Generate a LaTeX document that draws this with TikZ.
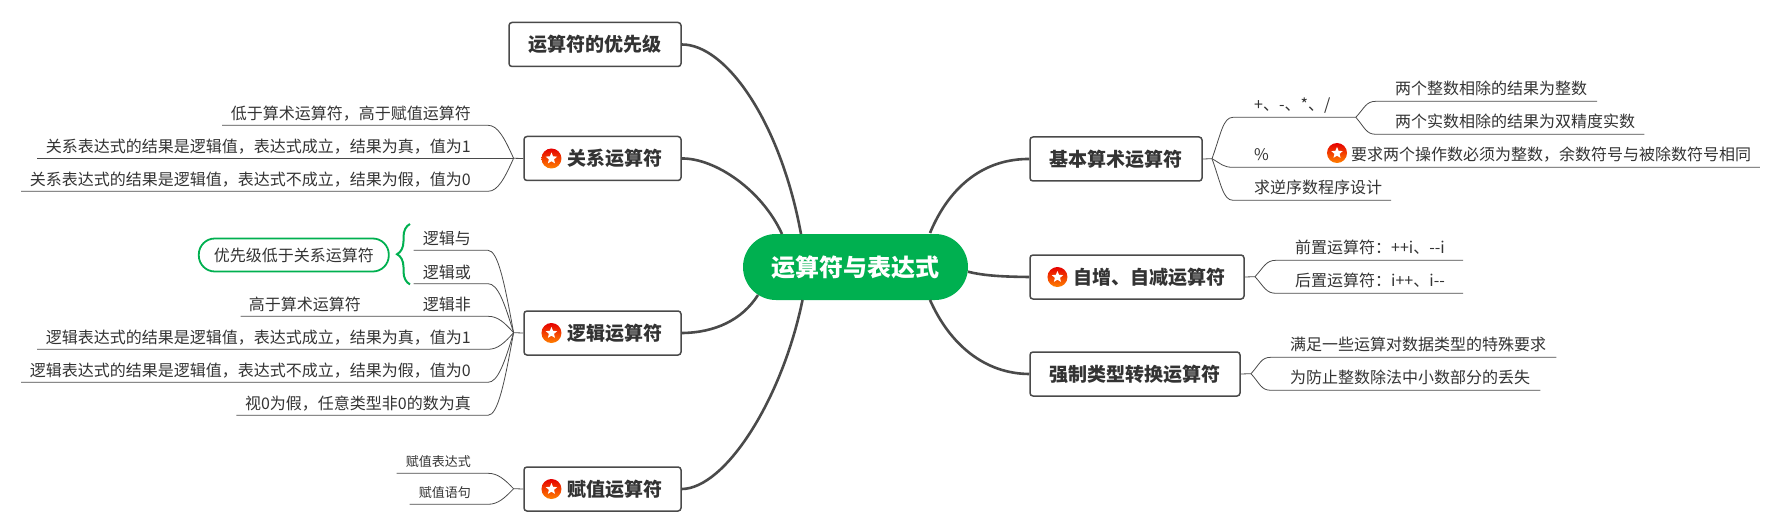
\documentclass[tikz,border=0pt]{standalone}
\usepackage{fontspec}
\setmainfont{Noto Sans CJK SC}
\usetikzlibrary{positioning}
\usetikzlibrary{shapes.geometric}
\usetikzlibrary{decorations.pathreplacing}
\definecolor{rootgreen}{HTML}{00B050}
\definecolor{inkgrey}{HTML}{333333}
\definecolor{linegrey}{HTML}{4A4A4A}
\tikzset{
  root/.style={fill=rootgreen, text=white, rounded corners=33pt, minimum width=225pt,
    minimum height=66pt, font=\fontsize{24}{28}\selectfont\bfseries},
  topic/.style={draw=linegrey, fill=white, line width=1.5pt, rounded corners=3pt, text=inkgrey,
    minimum width=#1, minimum height=44pt, inner sep=0pt, font=\fontsize{19}{22}\selectfont\bfseries},
  trunk/.style={draw=linegrey, line width=2.6pt},
  twig/.style={draw=linegrey, line width=0.8pt},
  leafl/.style={anchor=south east, align=right, text width=#1, inner xsep=0pt, inner ysep=5.5pt,
    text depth=0pt, text=inkgrey, font=\fontsize{16}{19}\selectfont,
    execute at end node={\hspace*{17pt}}},
  leafr/.style={anchor=south west, align=left, text width=#1, inner xsep=0pt, inner ysep=7pt,
    text depth=0pt, text=inkgrey, font=\fontsize{16}{19}\selectfont,
    execute at begin node={\hspace*{19pt}}},
  prio/.style={circle, top color=red!90!black, bottom color=orange, minimum size=20pt, inner sep=0pt,
    label={[star, star points=5, star point ratio=2.2, fill=white, minimum size=12pt, inner sep=0pt]center:}},
  pill/.style={draw=rootgreen, line width=1.8pt, rounded corners=16pt, minimum width=190pt,
    minimum height=33pt, text=inkgrey, font=\fontsize{16}{19}\selectfont},
}
\begin{document}
\begin{tikzpicture}[x=1pt, y=-1pt]

  \useasboundingbox (0,0) rectangle (1781,532);

  % Define nodes
  \node[root] (root) at (855.5,267) {运算符与表达式};

  \node[topic=172pt] (prec) at (595,44.5) {运算符的优先级};
  \node[topic=157pt] (rel) at (602.5,158.5) {\hspace*{25pt}关系运算符};
  \node[topic=157pt] (logic) at (602.5,333) {\hspace*{25pt}逻辑运算符};
  \node[topic=157pt] (assign) at (602.5,489) {\hspace*{25pt}赋值运算符};
  \node[topic=172pt] (arith) at (1116,159) {基本算术运算符};
  \node[topic=214pt] (incr) at (1137,277) {\hspace*{25pt}自增、自减运算符};
  \node[topic=210pt] (cast) at (1135,374) {强制类型转换运算符};

  \node[prio, right=18pt of rel.west] (relstar) {};
  \node[prio, right=18pt of logic.west] (logicstar) {};
  \node[prio, right=18pt of assign.west] (assignstar) {};
  \node[prio, right=18pt of incr.west] (incrstar) {};

  \coordinate (relj) at (513.6,158.3);
  \coordinate (logicj) at (513.6,332.7);
  \coordinate (assignj) at (513.6,488.7);
  \coordinate (arithj) at (1212,158.7);
  \coordinate (incrj) at (1255,276.7);
  \coordinate (castj) at (1251,373.7);

  \coordinate (rootprec) at (801,234);
  \coordinate (rootrel) at (782,234);
  \coordinate (rootlogic) at (758,295);
  \coordinate (rootassign) at (802.5,300);
  \coordinate (rootarith) at (930,233);
  \coordinate (rootincr) at (968,271.7);
  \coordinate (rootcast) at (930,300);

  % Left leaves
  \node[leafl=265.5pt] (rel1) at (488,125.3) {低于算术运算符，高于赋值运算符};
  \node[leafl=450.5pt] (rel2) at (488,158.3) {关系表达式的结果是逻辑值，表达式成立，结果为真，值为1};
  \node[leafl=466.4pt] (rel3) at (488,191.3) {关系表达式的结果是逻辑值，表达式不成立，结果为假，值为0};

  \node[leafl=74pt] (and) at (488,250.3) {逻辑与};
  \node[leafl=74pt] (or) at (488,283.7) {逻辑或};
  \node[leafl=74pt] (not) at (488,316.3) {逻辑非};
  \node[leafl=173pt] (notnote) at (414,316.3) {高于算术运算符\hspace*{36pt}};
  \node[leafl=450.5pt] (logic1) at (488,349.3) {逻辑表达式的结果是逻辑值，表达式成立，结果为真，值为1};
  \node[leafl=466.4pt] (logic2) at (488,382.3) {逻辑表达式的结果是逻辑值，表达式不成立，结果为假，值为0};
  \node[leafl=251.3pt] (logic3) at (488,415.3) {视0为假，任意类型非0的数为真};

  \node[leafl=91pt, inner ysep=7pt, font=\fontsize{13}{15}\selectfont] (assign1) at (488,473.3) {赋值表达式};
  \node[leafl=78pt, inner ysep=7pt, font=\fontsize{13}{15}\selectfont] (assign2) at (488,504.3) {赋值语句};

  \node[pill] (note) at (293.8,255) {优先级低于关系运算符};
  \coordinate (bracetop) at (410,224);
  \coordinate (bracebot) at (410,284.4);

  % Right leaves
  \node[leafr=122.4pt] (ops) at (1233,117.3) {\hspace*{2pt}+、-、*、/};
  \node[leafr=220.6pt] (ops1) at (1376,101.3) {两个整数相除的结果为整数};
  \node[leafr=268pt] (ops2) at (1376,134.3) {两个实数相除的结果为双精度实数};
  \node[leafr=78pt] (mod) at (1233,167.3) {\hspace*{2pt}\%};
  \node[leafr=448.5pt] (modnote) at (1311,167.3) {\hspace*{21pt}要求两个操作数必须为整数，余数符号与被除数符号相同};
  \node[prio] (modstar) at (1337,153) {};
  \node[leafr=157.6pt] (rev) at (1233,200.3) {\hspace*{2pt}求逆序数程序设计};

  \node[leafr=186.6pt] (pre) at (1276,260.3) {前置运算符：++i、-{}-i};
  \node[leafr=186.6pt] (post) at (1276,293.3) {后置运算符：i++、i-{}-};

  \node[leafr=285pt] (cast1) at (1271,357.3) {满足一些运算对数据类型的特殊要求};
  \node[leafr=269pt] (cast2) at (1271,390.3) {为防止整数除法中小数部分的丢失};

  % Connect the nodes
  \draw[trunk] (prec.east) .. controls (725,44) and (780,120) .. (rootprec);
  \draw[trunk] (rel.east) .. controls (715,158) and (762,190) .. (rootrel);
  \draw[trunk] (logic.east) .. controls (715,332.7) and (742,320) .. (rootlogic);
  \draw[trunk] (assign.east) .. controls (725,488.7) and (782,400) .. (rootassign);
  \draw[trunk] (arith.west) .. controls (985,158.7) and (950,185) .. (rootarith);
  \draw[trunk] (incr.west) .. controls (1005,276.7) and (985,276) .. (rootincr);
  \draw[trunk] (cast.west) .. controls (985,373.7) and (950,345) .. (rootcast);

  \draw[twig] (rel.west) -- (relj);
  \draw[twig] (logic.west) -- (logicj);
  \draw[twig] (assign.west) -- (assignj);
  \draw[twig] (arith.east) -- (arithj);
  \draw[twig] (incr.east) -- (incrj);
  \draw[twig] (cast.east) -- (castj);

  \foreach \leaf/\dy in {rel1/-33, rel2/0, rel3/33}
    \draw[twig] (relj) .. controls +(-9,0.6*\dy) and +(10,0) .. (\leaf.south east) -- (\leaf.south west);
  \foreach \leaf/\dy in {and/-82.4, or/-49, logic1/16.6, logic2/49.6, logic3/82.6}
    \draw[twig] (logicj) .. controls +(-9,0.6*\dy) and +(10,0) .. (\leaf.south east) -- (\leaf.south west);
  \draw[twig] (logicj) .. controls +(-9,-10) and +(10,0) .. (not.south east) -- (notnote.south east) -- (notnote.south west);
  \foreach \leaf/\dy in {assign1/-15.4, assign2/15.6}
    \draw[twig] (assignj) .. controls +(-9,0.6*\dy) and +(10,0) .. (\leaf.south east) -- (\leaf.south west);

  \draw[twig] (arithj) .. controls +(9,-25) and +(-10,0) .. (ops.south west) -- (ops.south east);
  \draw[twig] (arithj) .. controls +(9,5) and +(-10,0) .. (mod.south west) -- (mod.south east) -- (modnote.south east);
  \draw[twig] (arithj) .. controls +(9,25) and +(-10,0) .. (rev.south west) -- (rev.south east);
  \foreach \leaf/\dy in {ops1/-16, ops2/17}
    \draw[twig] (ops.south east) .. controls +(9,0.6*\dy) and +(-10,0) .. (\leaf.south west) -- (\leaf.south east);
  \foreach \leaf/\dy in {pre/-16.4, post/16.6}
    \draw[twig] (incrj) .. controls +(9,0.6*\dy) and +(-10,0) .. (\leaf.south west) -- (\leaf.south east);
  \foreach \leaf/\dy in {cast1/-16.4, cast2/16.6}
    \draw[twig] (castj) .. controls +(9,0.6*\dy) and +(-10,0) .. (\leaf.south west) -- (\leaf.south east);

  \draw[draw=rootgreen, line width=2pt, decorate, decoration={brace, amplitude=13pt, aspect=0.5}]
    (bracebot) -- (bracetop);

\end{tikzpicture}
\end{document}
